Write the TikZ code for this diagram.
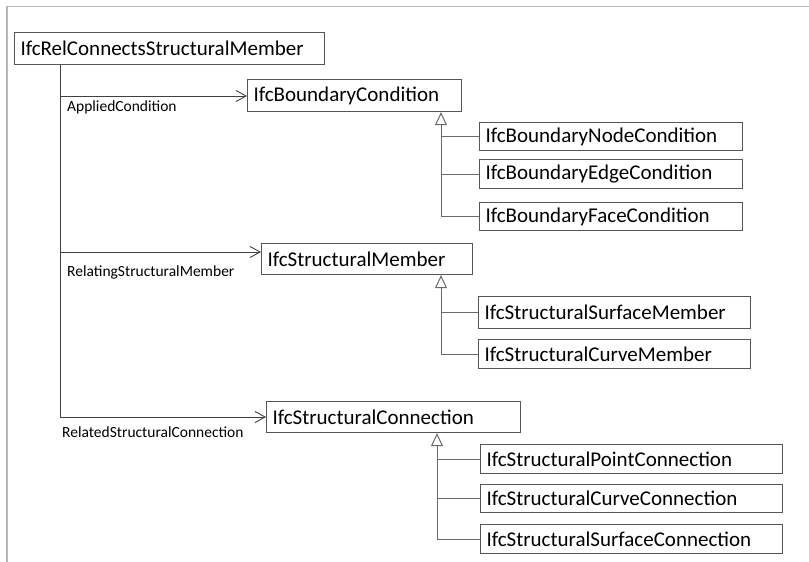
\documentclass[tikz,border=0pt]{standalone}
\usepackage{fontspec}
\setmainfont{Carlito}
\usetikzlibrary{arrows.meta}

\definecolor{framegray}{HTML}{B8B8B8}
\definecolor{boxline}{HTML}{555555}
\definecolor{linkline}{HTML}{404040}
\definecolor{genline}{HTML}{6A6A6A}

\tikzset{
  cls/.style 2 args={draw=boxline, line width=1.1pt, anchor=north west,
    text width=#1, minimum height=#2, inner xsep=6pt, inner ysep=0pt,
    align=left, font=\fontsize{21}{24}\selectfont},
  lbl/.style={anchor=west, inner sep=0pt, font=\fontsize{15.5}{18}\selectfont},
  trunk/.style={draw=linkline, line width=0.9pt},
  assoc/.style={trunk, -{Straight Barb[length=10pt,width=11pt,line width=0.9pt]}},
  genbar/.style={draw=genline, line width=1pt},
  genarrow/.style={genbar, -{Triangle[open,length=13pt,width=12pt,line width=1pt]}},
  frameline/.style={draw=framegray, line width=1.3pt}
}

\begin{document}
\begin{tikzpicture}[x=1pt, y=-1pt]
  \useasboundingbox (0,0) rectangle (809,562);

  % outer frame (top and left edges)
  \draw[frameline] (809,6.5) -- (7,6.5) -- (7,562);

  % relationship class
  \node[cls={298pt}{32pt}] (root) at (14,32) {IfcRelConnectsStructuralMember};

  % boundary conditions
  \node[cls={202pt}{32pt}] (bc)  at (247,79)  {IfcBoundaryCondition};
  \node[cls={251pt}{28pt}] (bnc) at (479,122) {IfcBoundaryNodeCondition};
  \node[cls={251pt}{29pt}] (bec) at (479,159) {IfcBoundaryEdgeCondition};
  \node[cls={251pt}{28pt}] (bfc) at (479,202) {IfcBoundaryFaceCondition};

  % structural members
  \node[cls={199pt}{31pt}] (sm)  at (261,243) {IfcStructuralMember};
  \node[cls={260pt}{32pt}] (ssm) at (478,296) {IfcStructuralSurfaceMember};
  \node[cls={260pt}{29pt}] (scm) at (478,339) {IfcStructuralCurveMember};

  % structural connections
  \node[cls={242pt}{31pt}] (sc)  at (266,401) {IfcStructuralConnection};
  \node[cls={290pt}{29pt}] (spc) at (480,444) {IfcStructuralPointConnection};
  \node[cls={290pt}{28pt}] (scc) at (480,484) {IfcStructuralCurveConnection};
  \node[cls={290pt}{29pt}] (ssc) at (480,524) {IfcStructuralSurfaceConnection};

  % attribute links from the relationship
  \coordinate (t1) at (60,96);
  \coordinate (t2) at (60,252);
  \coordinate (t3) at (60,417);
  \draw[trunk] (t1 |- root.south) -- (t3);
  \draw[assoc] (t1) -- (t1 -| bc.west);
  \draw[assoc] (t2) -- (t2 -| sm.west);
  \draw[assoc] (t3) -- (t3 -| sc.west);

  \node[lbl] (l1) at (67,107) {AppliedCondition};
  \node[lbl] (l2) at (67,272) {RelatingStructuralMember};
  \node[lbl] (l3) at (62,432) {RelatedStructuralConnection};

  % generalisation trees
  \coordinate (h1) at (441,0);
  \draw[genarrow] (h1 |- bfc.west) -- (h1 |- bc.south);
  \draw[genbar] (h1 |- bnc.west) -- (bnc.west);
  \draw[genbar] (h1 |- bec.west) -- (bec.west);
  \draw[genbar] (h1 |- bfc.west) -- (bfc.west);

  \coordinate (h2) at (441,0);
  \draw[genarrow] (h2 |- scm.west) -- (h2 |- sm.south);
  \draw[genbar] (h2 |- ssm.west) -- (ssm.west);
  \draw[genbar] (h2 |- scm.west) -- (scm.west);

  \coordinate (h3) at (437,0);
  \draw[genarrow] (h3 |- ssc.west) -- (h3 |- sc.south);
  \draw[genbar] (h3 |- spc.west) -- (spc.west);
  \draw[genbar] (h3 |- scc.west) -- (scc.west);
  \draw[genbar] (h3 |- ssc.west) -- (ssc.west);
\end{tikzpicture}
\end{document}
